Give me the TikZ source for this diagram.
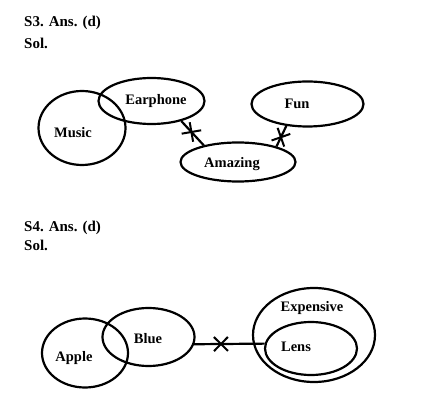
\documentclass[tikz,border=0pt]{standalone}
\usepackage{fontspec}
\setmainfont{Liberation Serif}
\usetikzlibrary{shapes.geometric,shapes.misc}

\tikzset{
  set/.style={draw, ellipse, line width=2.2pt, inner sep=0pt, minimum width=#1},
  word/.style={font=\fontsize{14.5}{16}\selectfont\bfseries, inner sep=0pt},
  heading/.style={font=\fontsize{15}{17}\selectfont\bfseries, inner sep=0pt, anchor=west},
  link/.style={line width=2.2pt},
  crossmark/.style={draw, cross out, line width=2pt, minimum size=12pt, inner sep=0pt, sloped}
}

\begin{document}
\begin{tikzpicture}[x=1pt, y=-1pt]
  \useasboundingbox (0,0) rectangle (425,411);

  % S3: Music, Earphone, Fun, Amazing
  \begin{scope}
    \node[heading] (headA) at (24,23) {S3. Ans. (d)};
    \node[heading] (solA) at (24,43) {Sol.};

    \node[set=87pt, minimum height=74pt] (music) at (82,128) {};
    \node[set=106pt, minimum height=46pt] (earphone) at (151.5,101) {};
    \node[set=112pt, minimum height=45pt] (fun) at (307.5,104) {};
    \node[set=115pt, minimum height=39pt] (amazing) at (238,162) {};

    \node[word] (musicl) at (73,133) {Music};
    \node[word] (earphonel) at (156,101) {Earphone};
    \node[word] (funl) at (297,104) {Fun};
    \node[word] (amazingl) at (232,164) {Amazing};

    \draw[link] (earphone.-34) -- node[crossmark, pos=0.45, rotate=12] (xa) {} (amazing.154);
    \draw[link] (fun.-134) -- node[crossmark, pos=0.55] (xb) {} (amazing.22);
  \end{scope}

  % S4: Apple, Blue, Expensive, Lens
  \begin{scope}
    \node[heading] (headB) at (24,228) {S4. Ans. (d)};
    \node[heading] (solB) at (24,245) {Sol.};

    \node[set=86pt, minimum height=69pt] (apple) at (85,353) {};
    \node[set=92pt, minimum height=58pt] (blue) at (148.5,337) {};
    \node[set=122pt, minimum height=94pt] (expensive) at (314,335) {};
    \node[set=92pt, minimum height=53pt] (lens) at (311,348.5) {};

    \node[word] (applel) at (74,358) {Apple};
    \node[word] (bluel) at (148,339) {Blue};
    \node[word] (expensivel) at (312,308) {Expensive};
    \node[word] (lensl) at (296,347) {Lens};

    \draw[link] (blue.-9) -- node[crossmark, pos=0.38] (xc) {} (lens.174);
  \end{scope}
\end{tikzpicture}
\end{document}
